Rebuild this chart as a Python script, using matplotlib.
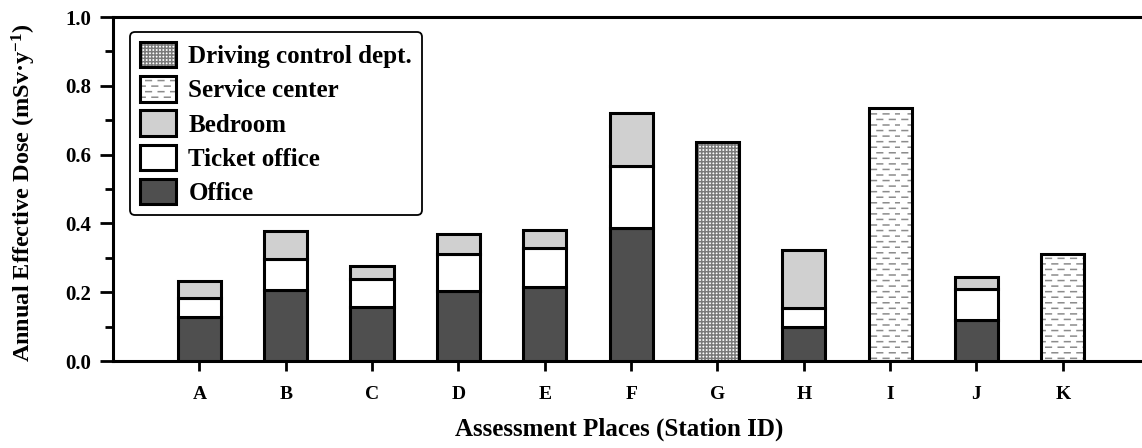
import numpy as np
import matplotlib
matplotlib.use("Agg")
import matplotlib.pyplot as plt
import matplotlib.hatch as mhatch
from matplotlib.path import Path
from matplotlib.patches import Patch
from matplotlib.legend_handler import HandlerTuple
from matplotlib.ticker import MultipleLocator, FormatStrFormatter

# ---------------- data ----------------
stations = ["A", "B", "C", "D", "E", "F", "G", "H", "I", "J", "K"]
office = [0.128, 0.207, 0.156, 0.203, 0.215, 0.387, 0.0, 0.099, 0.0, 0.118, 0.0]
ticket_office = [0.055, 0.090, 0.083, 0.109, 0.115, 0.180, 0.0, 0.055, 0.0, 0.092, 0.0]
bedroom = [0.051, 0.080, 0.038, 0.058, 0.052, 0.153, 0.0, 0.168, 0.0, 0.035, 0.0]
driving_control = [0.0, 0.0, 0.0, 0.0, 0.0, 0.0, 0.638, 0.0, 0.0, 0.0, 0.0]
service_center = [0.0, 0.0, 0.0, 0.0, 0.0, 0.0, 0.0, 0.0, 0.736, 0.0, 0.312]

legend_labels = ["Driving control dept.", "Service center", "Bedroom", "Ticket office", "Office"]


# ---------------- custom dashed hatch (replaces 'O') ----------------
class DashHatch(mhatch.HatchPatternBase):
    rows = 18
    cols = 8

    def __init__(self, hatch, density):
        self.on = hatch.count('O') > 0
        self.num_vertices = self.rows * self.cols * 2 if self.on else 0

    def set_vertices_and_codes(self, vertices, codes):
        i = 0
        for r in range(self.rows):
            y = (r + 0.5) / self.rows
            off = 0.5 * (r % 2)
            for c in range(self.cols):
                x0 = (c + off) / self.cols + 0.02
                x1 = x0 + 0.45 / self.cols
                vertices[i] = (x0, y)
                vertices[i + 1] = (x1, y)
                codes[i] = Path.MOVETO
                codes[i + 1] = Path.LINETO
                i += 2


mhatch._hatch_types = [t for t in mhatch._hatch_types if t is not mhatch.LargeCircles] + [DashHatch]

# ---------------- style ----------------
plt.rcParams['font.family'] = ['Liberation Serif', 'DejaVu Serif']
plt.rcParams['font.weight'] = 'bold'
plt.rcParams['mathtext.fontset'] = 'custom'
plt.rcParams['mathtext.rm'] = 'Liberation Serif:bold'
plt.rcParams['mathtext.bf'] = 'Liberation Serif:bold'
plt.rcParams['mathtext.it'] = 'Liberation Serif:bold'
plt.rcParams['mathtext.default'] = 'rm'
plt.rcParams['hatch.linewidth'] = 1.1

OFFICE_C = '#4f4f4f'
BED_C = '#d0d0d0'
HATCH_C = '#8c8c8c'
DRIVE_HC = '#7a7a7a'
EDGE_LW = 2.2

fig = plt.figure(figsize=(11.42, 4.48), dpi=100)
ax = fig.add_axes([0.099, 0.194, 0.905, 0.768])

x = np.arange(1, len(stations) + 1)
W = 0.5

office_a = np.array(office)
ticket_a = np.array(ticket_office)
bed_a = np.array(bedroom)
drive_a = np.array(driving_control)
serv_a = np.array(service_center)

stk = office_a > 0
ax.bar(x[stk], office_a[stk], W, color=OFFICE_C, edgecolor='black', linewidth=EDGE_LW, zorder=3)
ax.bar(x[stk], ticket_a[stk], W, bottom=office_a[stk], color='white', edgecolor='black',
       linewidth=EDGE_LW, zorder=3)
ax.bar(x[stk], bed_a[stk], W, bottom=(office_a + ticket_a)[stk], color=BED_C, edgecolor='black',
       linewidth=EDGE_LW, zorder=3)

dm = drive_a > 0
ax.bar(x[dm], drive_a[dm], W, color='white', edgecolor=DRIVE_HC, hatch='+++++', linewidth=0, zorder=2)
ax.bar(x[dm], drive_a[dm], W, fill=False, edgecolor='black', linewidth=EDGE_LW, zorder=3)

sm = serv_a > 0
ax.bar(x[sm], serv_a[sm], W, color='white', edgecolor=HATCH_C, hatch='O', linewidth=0, zorder=2)
ax.bar(x[sm], serv_a[sm], W, fill=False, edgecolor='black', linewidth=EDGE_LW, zorder=3)

# ---------------- axes ----------------
ax.set_xlim(0, 11.97)
ax.set_ylim(0, 1.0)
ax.set_xticks(x)
ax.set_xticklabels(stations)
ax.yaxis.set_major_locator(MultipleLocator(0.2))
ax.yaxis.set_minor_locator(MultipleLocator(0.1))
ax.yaxis.set_major_formatter(FormatStrFormatter('%.1f'))

for s in ['left', 'bottom', 'top']:
    ax.spines[s].set_linewidth(2.2)
ax.spines['right'].set_visible(False)

ax.tick_params(axis='y', which='major', direction='out', length=9.5, width=2.0, labelsize=15, pad=6)
ax.tick_params(axis='y', which='minor', direction='out', length=5.5, width=2.0)
ax.tick_params(axis='x', which='major', direction='out', length=7, width=2.0, labelsize=14, pad=11)

ax.set_xlabel("Assessment Places (Station ID)", fontsize=18, fontweight='bold')
ax.set_ylabel(r"Annual Effective Dose (mSv·y$^{-1}$)", fontsize=17.5, fontweight='bold')
ax.xaxis.set_label_coords(0.49, -0.165)
ax.yaxis.set_label_coords(-0.073, 0.49)

# ---------------- legend ----------------
def hp(fc, hatch=None, hc=None):
    if hatch is None:
        return Patch(facecolor=fc, edgecolor='black', linewidth=EDGE_LW)
    return (Patch(facecolor=fc, edgecolor=hc, hatch=hatch, linewidth=0),
            Patch(fill=False, edgecolor='black', linewidth=EDGE_LW))

handles = [hp('white', '+++++', DRIVE_HC), hp('white', 'O', HATCH_C), hp(BED_C), hp('white'), hp(OFFICE_C)]
leg = ax.legend(handles, legend_labels, loc='upper left', bbox_to_anchor=(0.016, 0.957),
                handler_map={tuple: HandlerTuple(ndivide=1)}, fontsize=18, frameon=True,
                fancybox=True, handlelength=1.45, handleheight=1.2, handletextpad=0.5,
                labelspacing=0.32, borderpad=0.4, borderaxespad=0)
leg.get_frame().set_edgecolor('black')
leg.get_frame().set_linewidth(1.3)
leg.get_frame().set_alpha(1)

fig.savefig("out.png", dpi=100)
